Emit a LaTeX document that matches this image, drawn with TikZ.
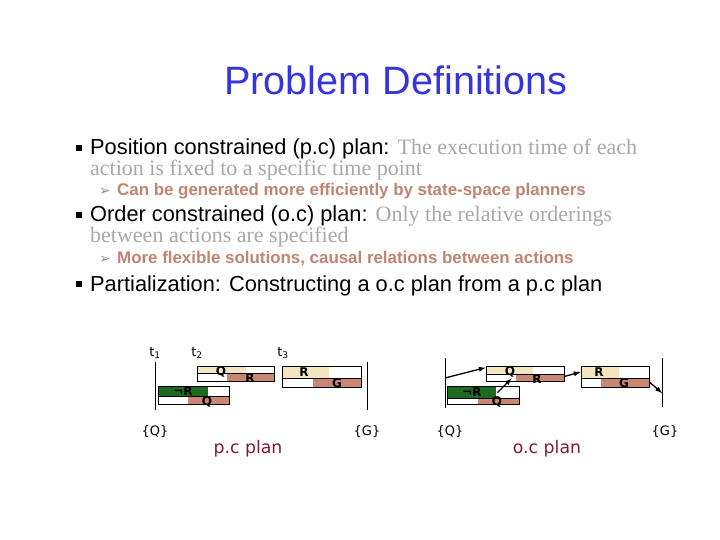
\documentclass[tikz,border=0pt]{standalone}
\usepackage{fontspec}
\setmainfont{Liberation Sans}
\newfontfamily\timesfont{Liberation Serif}
\newfontfamily\dejafont{DejaVu Sans}
\usetikzlibrary{calc}
\usetikzlibrary{arrows}
\usetikzlibrary{positioning}
\definecolor{TitleBlue}{HTML}{3535DD}
\definecolor{LightGray}{HTML}{A8A8A8}
\definecolor{SubBrown}{HTML}{C08470}
\definecolor{ArrowGray}{HTML}{8C8C8C}
\definecolor{PlanMaroon}{HTML}{7F1A3C}
\definecolor{LightTan}{HTML}{F3E6BF}
\definecolor{BoxSalmon}{HTML}{C98670}
\definecolor{DarkGreen}{HTML}{1E6A20}

\newcommand{\bodysize}{\fontsize{21.8}{24}\selectfont}
\newcommand{\graysize}{\fontsize{22}{24}\selectfont}
\newcommand{\subsize}{\fontsize{16.9}{20}\selectfont\bfseries}
\newcommand{\smallsize}{\fontsize{13}{15}\selectfont}

% action box: name, left, right, top, middle, bottom, upper colour, upper split, lower split
\newcommand{\planact}[9]{%
  \fill[#7] (#2,#4) rectangle (#8,#5);
  \fill[BoxSalmon] (#9,#5) rectangle (#3,#6);
  \node[actbox, minimum width=#3pt-#2pt, minimum height=#6pt-#4pt] (#1)
    at ($(#2,#4)!0.5!(#3,#6)$) {};
  \draw[actline] (#2,#5) -- (#3,#5);
}

\tikzset{
  txt/.style={anchor=base west, inner sep=0pt},
  bulletsq/.style={fill=black, inner sep=0pt, minimum size=5.5pt},
  arrowbullet/.style={anchor=base, inner sep=0pt, ArrowGray, font=\dejafont\fontsize{14}{15}\selectfont},
  actbox/.style={draw=black, line width=0.8pt, inner sep=0pt},
  actline/.style={line width=0.8pt},
  planline/.style={line width=1pt},
  boxlabel/.style={inner sep=0pt, font=\dejafont\bfseries\fontsize{12}{13}\selectfont},
  tlabel/.style={anchor=base, inner sep=0pt, font=\dejafont\smallsize},
  statelabel/.style={inner sep=0pt, font=\dejafont\smallsize},
  planname/.style={inner sep=0pt, PlanMaroon, font=\dejafont\fontsize{17.3}{20}\selectfont},
  orderarrow/.style={-latex, line width=1.3pt}
}

\begin{document}
\begin{tikzpicture}[x=1pt, y=-1pt]
  \useasboundingbox (0,0) rectangle (720,540);

  % title
  \node[anchor=base, inner sep=0pt, TitleBlue, font=\fontsize{39.6}{44}\selectfont]
    (title) at (396,95) {Problem Definitions};

  % bullets
  \node[bulletsq] (bul1) at (79,148) {};
  \node[txt] (pos1) at (90,155) {\bodysize Position constrained (p.c) plan:
    {\timesfont\graysize\color{LightGray}The execution time of each}};
  \node[txt] (pos2) at (90,176) {\timesfont\graysize\color{LightGray}action is fixed to a specific time point};
  \node[arrowbullet] (arr1) at (105,196) {➢};
  \node[txt, SubBrown] (sub1) at (117,196) {\subsize Can be generated more efficiently by state-space planners};

  \node[bulletsq] (bul2) at (79,215) {};
  \node[txt] (ord1) at (90,222) {\bodysize Order constrained (o.c) plan:
    {\timesfont\graysize\color{LightGray}Only the relative orderings}};
  \node[txt] (ord2) at (90,243) {\timesfont\graysize\color{LightGray}between actions are specified};
  \node[arrowbullet] (arr2) at (105,263) {➢};
  \node[txt, SubBrown] (sub2) at (117,263) {\subsize More flexible solutions, causal relations between actions};

  \node[bulletsq] (bul3) at (79,284) {};
  \node[txt] (part) at (90,291) {\bodysize Partialization: Constructing a o.c plan from a p.c plan};

  % p.c plan
  \node[tlabel] (tone)   at (155,356) {t\textsubscript{1}};
  \node[tlabel] (ttwo)   at (197,356) {t\textsubscript{2}};
  \node[tlabel] (tthree) at (283,356) {t\textsubscript{3}};

  \coordinate (pcstarttop) at (155,362);
  \coordinate (pcstartbot) at (155,410);
  \coordinate (pcendtop)   at (367,362);
  \coordinate (pcendbot)   at (367,410);
  \draw[planline] (pcstarttop) -- (pcstartbot);
  \draw[planline] (pcendtop) -- (pcendbot);

  \planact{aq}{197}{274}{366}{373.5}{381}{LightTan}{246}{227}
  \planact{anr}{158}{229}{386}{396}{404}{DarkGreen}{208}{188}
  \planact{ar}{282}{361}{366}{378}{387}{LightTan}{329}{313}

  \node[boxlabel] (aqpre)   at (221,372) {Q};
  \node[boxlabel] (aqeff)   at (250,378) {R};
  \node[boxlabel] (anrpre)  at (183,391) {¬R};
  \node[boxlabel] (anreff)  at (207,402) {Q};
  \node[boxlabel] (arpre)   at (304,372) {R};
  \node[boxlabel] (areff)   at (337,383) {G};

  \node[statelabel] (pcinit) at (155,432) {\{Q\}};
  \node[statelabel] (pcgoal) at (367,432) {\{G\}};
  \node[planname] (pcname) at (248,449) {p.c plan};

  % o.c plan
  \coordinate (ocstarttop) at (445,358);
  \coordinate (ocstartbot) at (445,408);
  \coordinate (ocendtop)   at (662,358);
  \coordinate (ocendbot)   at (662,407);
  \draw[planline] (ocstarttop) -- (ocstartbot);
  \draw[planline] (ocendtop) -- (ocendbot);

  \planact{bq}{486}{564}{366}{374}{381}{LightTan}{533}{516}
  \planact{bnr}{447}{519}{386}{398}{404}{DarkGreen}{496}{478}
  \planact{br}{581}{649}{366}{378}{387}{LightTan}{619}{601}

  \node[boxlabel] (bqpre)   at (510,372) {Q};
  \node[boxlabel] (bqeff)   at (537,379) {R};
  \node[boxlabel] (bnrpre)  at (472,392) {¬R};
  \node[boxlabel] (bnreff)  at (497,402) {Q};
  \node[boxlabel] (brpre)   at (599,372) {R};
  \node[boxlabel] (breff)   at (624,383) {G};

  \coordinate (ocin)  at (445,378);
  \coordinate (ocout) at (662,393);
  \draw[orderarrow] (ocin) -- ([yshift=-2pt]bq.north west);
  \draw[orderarrow] ([xshift=-22pt, yshift=-7pt]bnr.north east) -- ([xshift=26pt, yshift=3pt]bq.south west);
  \draw[orderarrow] ([yshift=-3pt]bq.east) -- ([yshift=4.5pt]br.west);
  \draw[orderarrow] ([yshift=-5.5pt]br.east) -- (ocout);

  \node[statelabel] (ocinit) at (450,432) {\{Q\}};
  \node[statelabel] (ocgoal) at (665,432) {\{G\}};
  \node[planname] (ocname) at (547,449) {o.c plan};
\end{tikzpicture}
\end{document}
